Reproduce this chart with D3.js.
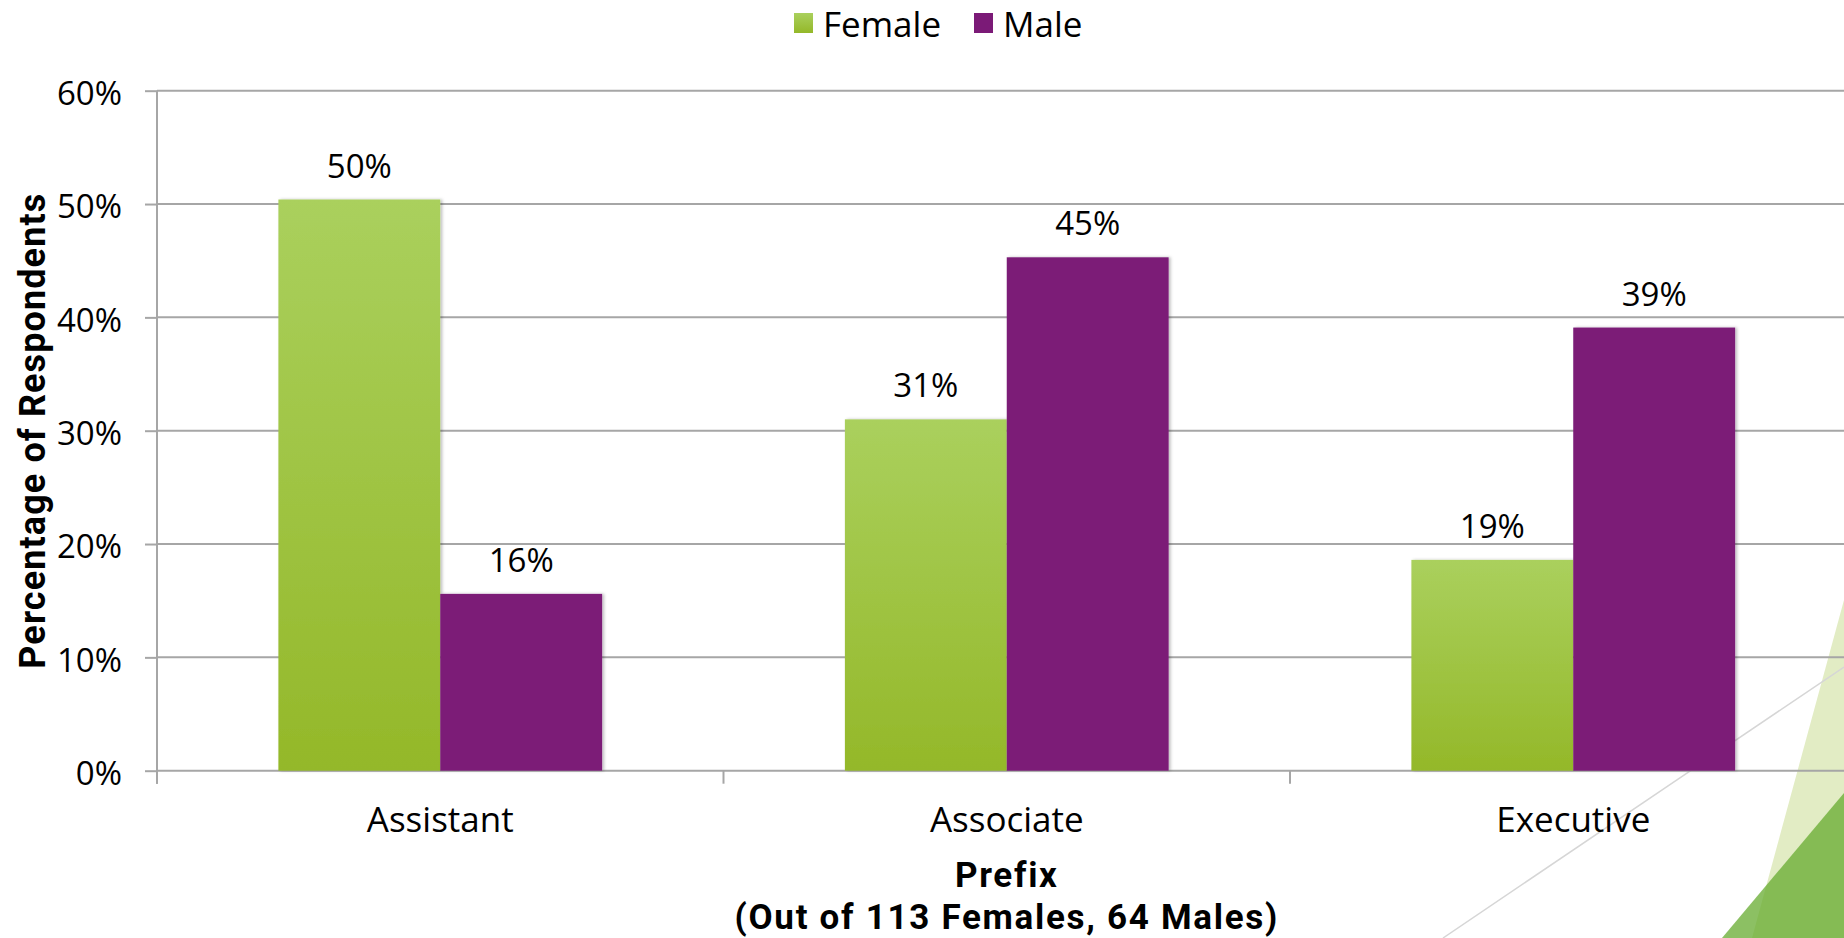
<!DOCTYPE html>
<html>
<head>
<meta charset="utf-8">
<script src="https://cdn.jsdelivr.net/npm/d3@7"></script>
<style>
  html, body { margin: 0; padding: 0; background: #ffffff; }
  svg { display: block; }
  text { font-family: "Open Sans", "Noto Sans", sans-serif; fill: #000; }
  .title { font-family: Roboto, "Open Sans", sans-serif; font-weight: 700; }
</style>
</head>
<body>
<svg id="chart" width="1844" height="938"></svg>
<script>
// Survey responses by job-title prefix, split by gender
const categories = ["Assistant", "Associate", "Executive"];
const seriesNames = ["Female", "Male"];
const femaleValues = [0.504, 0.310, 0.186];
const maleValues = [0.156, 0.453, 0.391];
const yTicks = [0, 0.1, 0.2, 0.3, 0.4, 0.5, 0.6];
const yTitle = "Percentage of Respondents";
const xTitleLines = ["Prefix", "(Out of 113 Females, 64 Males)"];

const W = 1844, H = 938;
const plot = { left: 157, top: 90.7, bottom: 770.7, width: 1699.5 };

const svg = d3.select("#chart");
const defs = svg.append("defs");

const femaleGrad = defs.append("linearGradient")
  .attr("id", "femaleFill").attr("x1", 0).attr("y1", 0).attr("x2", 0).attr("y2", 1);
femaleGrad.append("stop").attr("offset", "0%").attr("stop-color", "#aad05d");
femaleGrad.append("stop").attr("offset", "100%").attr("stop-color", "#94b829");

const shadow = defs.append("filter").attr("id", "barShadow")
  .attr("x", "-5%").attr("y", "-5%").attr("width", "115%").attr("height", "110%");
shadow.append("feDropShadow").attr("dx", 2).attr("dy", 0)
  .attr("stdDeviation", 1.5).attr("flood-color", "#000").attr("flood-opacity", 0.25);

const colors = { Female: "url(#femaleFill)", Male: "#7b1a77" };

// Slide decoration in the lower right corner
const deco = svg.append("g");
deco.append("polygon")
  .attr("points", [[W, 600], [1752, H], [W, H]].map(p => p.join(",")).join(" "))
  .attr("fill", "#e2ecc4");
deco.append("polygon")
  .attr("points", [[W, 793], [1722, H], [W, H]].map(p => p.join(",")).join(" "))
  .attr("fill", "#65ab2f").attr("fill-opacity", 0.75);
deco.append("line")
  .attr("x1", W).attr("y1", 667).attr("x2", 1443).attr("y2", H)
  .attr("stroke", "#d6d6d6").attr("stroke-width", 1.5);

// Scales
const x = d3.scaleBand().domain(categories)
  .range([plot.left, plot.left + plot.width]).paddingInner(0).paddingOuter(0);
const xs = d3.scaleBand().domain(seriesNames)
  .range([0, x.bandwidth()]).paddingInner(0).paddingOuter(0.75);
const y = d3.scaleLinear().domain([0, 0.6]).range([plot.bottom, plot.top]);

const data = categories.map((c, i) => ({
  category: c,
  values: [
    { series: "Female", value: femaleValues[i] },
    { series: "Male", value: maleValues[i] }
  ]
}));

// Gridlines
const grid = svg.append("g").attr("class", "grid");
grid.selectAll("line").data(yTicks).join("line")
  .attr("x1", plot.left).attr("x2", plot.left + plot.width)
  .attr("y1", d => y(d)).attr("y2", d => y(d))
  .attr("stroke", "#a6a6a6").attr("stroke-width", 2);

// Y axis
const yAxis = svg.append("g")
  .attr("transform", `translate(${plot.left},0)`)
  .call(d3.axisLeft(y).tickValues(yTicks).tickFormat(d3.format(".0%"))
    .tickSize(12).tickPadding(23));
yAxis.select(".domain").attr("stroke", "#a6a6a6").attr("stroke-width", 2)
  .attr("d", `M0,${plot.top}V${plot.bottom + 13}`);
yAxis.selectAll(".tick line").attr("stroke", "#a6a6a6").attr("stroke-width", 2);
yAxis.selectAll(".tick text")
  .attr("font-family", "Open Sans").attr("font-size", 33).attr("dy", "0.42em");

// X axis: tick marks at category boundaries, labels at centres
const xAxis = svg.append("g").attr("transform", `translate(0,${plot.bottom})`);
xAxis.call(d3.axisBottom(x).tickSize(0).tickPadding(36));
xAxis.select(".domain").remove();
xAxis.selectAll(".tick text")
  .attr("font-family", "Open Sans").attr("font-size", 35);
xAxis.selectAll("line.boundary")
  .data(categories.map(c => x(c)).concat([x(categories[categories.length - 1]) + x.bandwidth()]))
  .join("line").attr("class", "boundary")
  .attr("x1", d => d).attr("x2", d => d).attr("y1", 0).attr("y2", 13)
  .attr("stroke", "#a6a6a6").attr("stroke-width", 2);

// Bars
const groups = svg.append("g").selectAll("g").data(data).join("g")
  .attr("transform", d => `translate(${x(d.category)},0)`);
groups.selectAll("rect").data(d => d.values).join("rect")
  .attr("x", d => xs(d.series))
  .attr("width", xs.bandwidth())
  .attr("y", d => y(d.value))
  .attr("height", d => y(0) - y(d.value))
  .attr("fill", d => colors[d.series])
  .attr("filter", "url(#barShadow)");

// Value labels
groups.selectAll("text.value").data(d => d.values).join("text")
  .attr("class", "value")
  .attr("x", d => xs(d.series) + xs.bandwidth() / 2)
  .attr("y", d => y(d.value) - 22)
  .attr("text-anchor", "middle")
  .attr("font-size", 33)
  .text(d => d3.format(".0%")(d.value));

// Axis titles
svg.append("text").attr("class", "title")
  .attr("transform", `translate(45,${(plot.top + plot.bottom) / 2}) rotate(-90)`)
  .attr("text-anchor", "middle")
  .attr("font-size", 36).attr("letter-spacing", 1.1)
  .text(yTitle);

svg.append("g").selectAll("text").data(xTitleLines).join("text")
  .attr("class", "title")
  .attr("text-anchor", "middle")
  .attr("font-size", 35).attr("letter-spacing", 1.7)
  .attr("x", plot.left + plot.width / 2)
  .attr("y", (d, i) => 887 + i * 41.5)
  .text(d => d);

// Legend
const legend = svg.append("g");
const legendItems = [
  { name: "Female", x: 794 },
  { name: "Male", x: 974 }
];
const li = legend.selectAll("g").data(legendItems).join("g")
  .attr("transform", d => `translate(${d.x},0)`);
li.append("rect").attr("x", 0).attr("y", 13).attr("width", 19).attr("height", 20)
  .attr("fill", d => colors[d.name]);
li.append("text").attr("x", 29).attr("y", 37).attr("font-size", 35)
  .text(d => d.name);
</script>
</body>
</html>
